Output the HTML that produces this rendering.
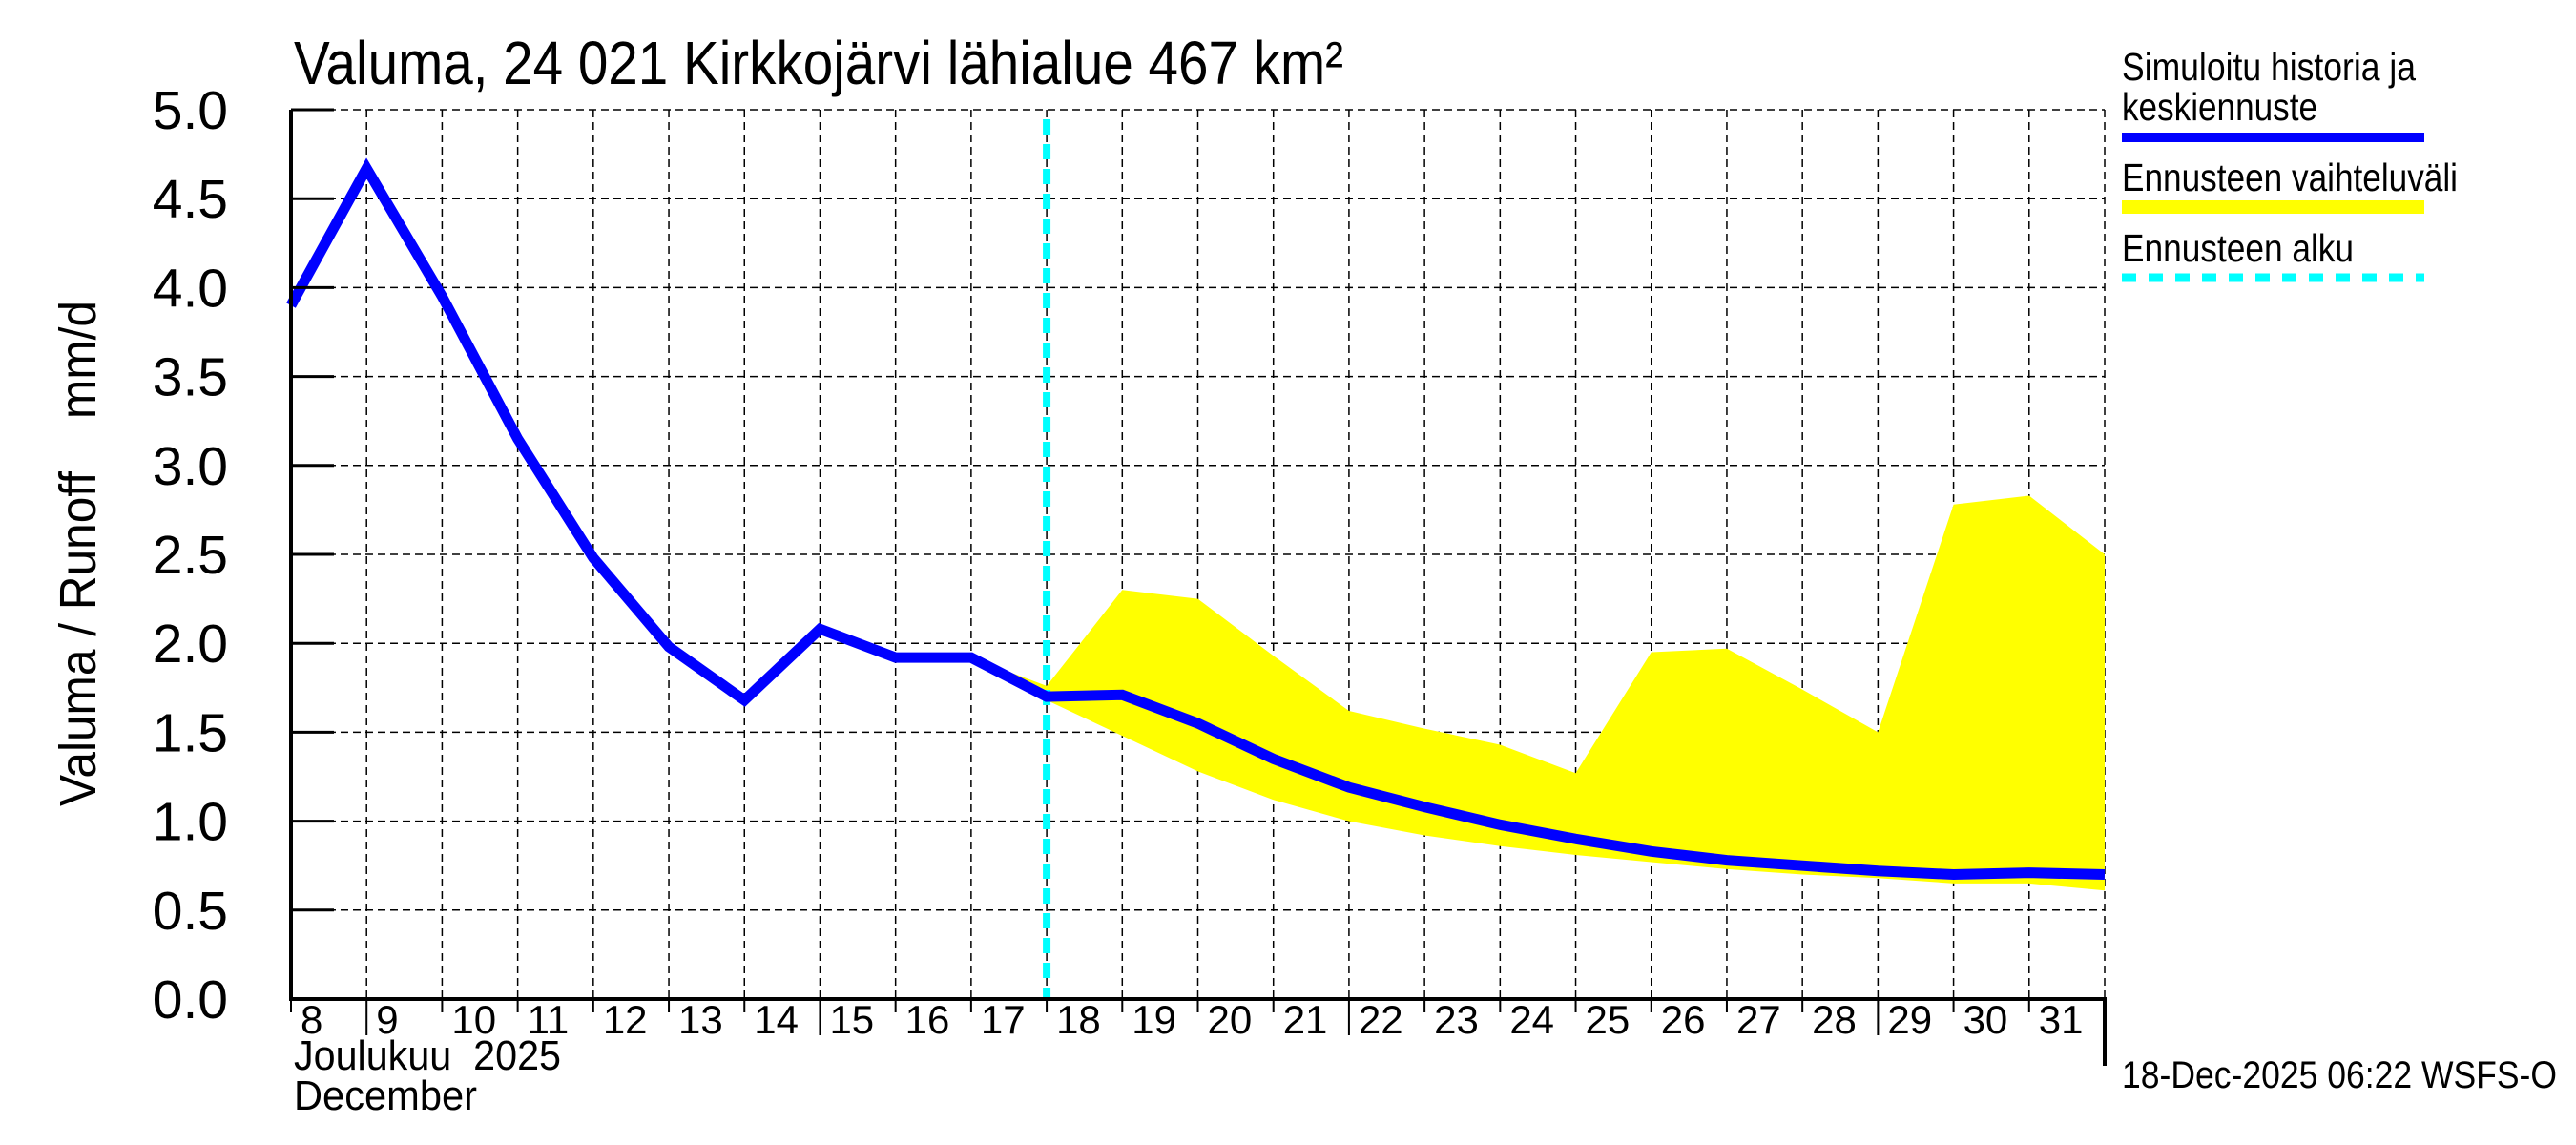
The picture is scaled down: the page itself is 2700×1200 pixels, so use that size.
<!DOCTYPE html>
<html><head><meta charset="utf-8"><style>
html,body{margin:0;padding:0;background:#fff;}
svg{display:block;font-family:"Liberation Sans",sans-serif;}
</style></head><body>
<svg id="chart" width="2700" height="1200" viewBox="0 0 2700 1200" xmlns="http://www.w3.org/2000/svg">
<text x="308" y="88" font-size="64" textLength="1100" lengthAdjust="spacingAndGlyphs">Valuma, 24 021 Kirkkojärvi lähialue 467 km²</text>
<text transform="translate(100,580) rotate(-90)" text-anchor="middle" font-size="54" textLength="530" lengthAdjust="spacingAndGlyphs">Valuma / Runoff&#160;&#160;&#160;&#160;mm/d</text>
<g id="grid"></g>
<g id="band"></g>
<g id="series"></g>
<g id="axes"></g>
<text x="308" y="1121" font-size="44" textLength="280" lengthAdjust="spacingAndGlyphs">Joulukuu&#160;&#160;2025</text>
<text x="308" y="1163" font-size="44" textLength="192" lengthAdjust="spacingAndGlyphs">December</text>
<text x="2224" y="1140" font-size="40" textLength="456" lengthAdjust="spacingAndGlyphs">18-Dec-2025 06:22 WSFS-O</text>
<g>
<text x="2224" y="84" font-size="41" textLength="308" lengthAdjust="spacingAndGlyphs">Simuloitu historia ja</text>
<text x="2224" y="126" font-size="41" textLength="205" lengthAdjust="spacingAndGlyphs">keskiennuste</text>
<line x1="2224" y1="144" x2="2541" y2="144" stroke="#0000ff" stroke-width="10"/>
<text x="2224" y="200" font-size="41" textLength="352" lengthAdjust="spacingAndGlyphs">Ennusteen vaihteluväli</text>
<line x1="2224" y1="217" x2="2541" y2="217" stroke="#ffff00" stroke-width="14"/>
<text x="2224" y="274" font-size="41" textLength="243" lengthAdjust="spacingAndGlyphs">Ennusteen alku</text>
<line x1="2224" y1="291" x2="2541" y2="291" stroke="#00ffff" stroke-width="9" stroke-dasharray="15,13"/>
</g>
</svg>
<script>
const days = ["8","9","10","11","12","13","14","15","16","17","18","19","20","21","22","23","24","25","26","27","28","29","30","31"];
const yTicks = [0,0.5,1,1.5,2,2.5,3,3.5,4,4.5,5];
const yTickLabels = ["0.0","0.5","1.0","1.5","2.0","2.5","3.0","3.5","4.0","4.5","5.0"];
const simValues = [3.9,4.67,3.95,3.15,2.48,1.98,1.68,2.08,1.92,1.92,1.70,1.71,1.55,1.35,1.19,1.08,0.98,0.90,0.83,0.78,0.75,0.72,0.70,0.71,0.70];
const bandStart = 9;
const bandUpper = [1.92,1.76,2.30,2.25,1.93,1.62,1.52,1.43,1.27,1.95,1.97,1.74,1.50,2.78,2.83,2.50];
const bandLower = [1.92,1.68,1.48,1.28,1.12,1.00,0.92,0.86,0.81,0.77,0.73,0.70,0.68,0.65,0.65,0.61];
const forecastStart = 10;

const X0=305, X1=2206, Y0=1047, Y1=115, NDAYS=24;
const xs = i => X0 + (X1-X0)*i/NDAYS;
const ys = v => Y0 - (Y0-Y1)*v/5;
const NS="http://www.w3.org/2000/svg";
function mk(tag, attrs, parent){const e=document.createElementNS(NS,tag);for(const k in attrs)e.setAttribute(k,attrs[k]);parent.appendChild(e);return e;}
const grid=document.getElementById('grid'), axes=document.getElementById('axes'), band=document.getElementById('band'), series=document.getElementById('series');

yTicks.forEach((v,i)=>{
  const g=mk('line',{x1:X0,x2:X1,y1:ys(v),y2:ys(v),stroke:'#000','stroke-width':1.5,'stroke-dasharray':'8,5'},grid);
  
  
  const t=mk('line',{x1:X0,x2:X0+45,y1:ys(v),y2:ys(v),stroke:'#000','stroke-width':3},axes);
  
  
  const l=mk('text',{x:239,y:ys(v)+20,'text-anchor':'end','font-size':57},axes);
  l.textContent=yTickLabels[i];
  
  
});
for(let i=1;i<=NDAYS;i++){
  const g=mk('line',{x1:xs(i),x2:xs(i),y1:Y1,y2:Y0,stroke:'#000','stroke-width':1.5,'stroke-dasharray':'8,5'},grid);
  
  
}
days.forEach((d,i)=>{
  const long = (i===1||i===7||i===14||i===21);
  const t=mk('line',{x1:xs(i),x2:xs(i),y1:Y0,y2:Y0+(long?38:14),stroke:'#000','stroke-width':2},axes);
  
  
  const l=mk('text',{x:xs(i)+10,y:1083,'font-size':42},axes);
  l.textContent=d;
  
  
});
let pts=[];
bandUpper.forEach((v,i)=>pts.push(xs(bandStart+i)+','+ys(v)));
for(let i=bandLower.length-1;i>=0;i--) pts.push(xs(bandStart+i)+','+ys(bandLower[i]));
const poly=mk('polygon',{points:pts.join(' '),fill:'#ffff00'},band);



const cy=mk('line',{x1:xs(forecastStart),x2:xs(forecastStart),y1:Y1+10,y2:Y0,stroke:'#00ffff','stroke-width':8,'stroke-dasharray':'16,10'},series);


const sim=mk('polyline',{points:simValues.map((v,i)=>xs(i)+','+ys(v)).join(' '),fill:'none',stroke:'#0000ff','stroke-width':11,'stroke-linejoin':'miter'},series);



const ax=mk('path',{d:`M${X0},${Y1} V${Y0} H${X1} V1117`,fill:'none',stroke:'#000','stroke-width':4},axes);


const tk=mk('line',{x1:X0,x2:X0+45,y1:Y1,y2:Y1,stroke:'#000','stroke-width':3},axes);


</script>
</body></html>
